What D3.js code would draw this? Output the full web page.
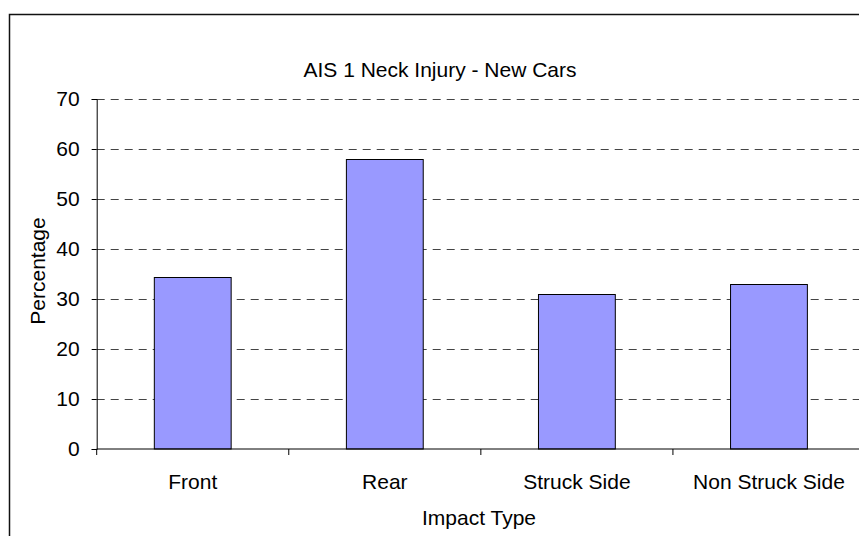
<!doctype html>
<html lang="en">
  <head>
    <meta charset="UTF-8">
    <title>AIS 1 Neck Injury - New Cars</title>
    <style>
      body { margin: 0; background: #fff; }
      svg text { font-family: "Liberation Sans", Arial, sans-serif; fill: #000; }
      .grid line { stroke: #444; stroke-width: 1; stroke-dasharray: 8,6; }
    </style>
  </head>
  <body>
    <svg width="859" height="536"></svg>
    <script src="https://d3js.org/d3.v7.min.js"></script>
    <script>
      // chart data
      var categories = ["Front", "Rear", "Struck Side", "Non Struck Side"];
      var values = [34.3, 57.9, 30.9, 32.9];
      var yTicks = [0, 10, 20, 30, 40, 50, 60, 70];

      var svg = d3.select("svg");
      var plotLeft = 96.7, plotRight = 865, plotTop = 99, plotBottom = 449;
      var fs = "21px";

      // chart area border (runs off the right and bottom edge)
      svg.append("rect")
              .attr("x", 9.5).attr("y", 14.5)
              .attr("width", 900).attr("height", 560)
              .attr("fill", "#fff")
              .attr("stroke", "#111")
              .attr("stroke-width", 1.5);

      var x = d3.scaleBand()
              .domain(categories)
              .range([plotLeft, plotRight])
              .padding(0);

      var y = d3.scaleLinear()
              .domain([0, 70])
              .range([plotBottom, plotTop]);

      // dashed gridlines
      svg.append("g").attr("class", "grid")
              .selectAll("line")
              .data(yTicks.filter(function (d) { return d > 0; }))
              .enter().append("line")
              .attr("x1", plotLeft).attr("x2", plotRight)
              .attr("y1", function (d) { return Math.round(y(d)) + 0.5; })
              .attr("y2", function (d) { return Math.round(y(d)) + 0.5; });

      // bars
      var barW = x.bandwidth() * 0.4;
      svg.append("g").selectAll("rect")
              .data(values)
              .enter().append("rect")
              .attr("x", function (d, i) { return x(categories[i]) + (x.bandwidth() - barW) / 2; })
              .attr("y", function (d) { return y(d); })
              .attr("width", barW)
              .attr("height", function (d) { return y(0) - y(d); })
              .attr("fill", "#9999ff")
              .attr("stroke", "#000")
              .attr("stroke-width", 1);

      // y axis
      var yAxis = d3.axisLeft(y)
              .tickValues(yTicks)
              .tickSize(5)
              .tickPadding(12);
      var gy = svg.append("g")
              .attr("transform", "translate(" + plotLeft + ",0)")
              .call(yAxis);
      gy.select(".domain").attr("stroke", "#000");
      gy.selectAll(".tick line").attr("stroke", "#000");
      gy.selectAll(".tick text")
              .style("font-size", fs)
              .style("font-family", "'Liberation Sans', Arial, sans-serif")
              .attr("fill", "#000");

      // x axis with ticks between categories
      var gx = svg.append("g")
              .attr("transform", "translate(0," + plotBottom + ")");
      gx.append("line")
              .attr("x1", plotLeft).attr("x2", plotRight)
              .attr("stroke", "#000");
      var bounds = categories.map(function (c) { return x(c); }).concat([plotRight]);
      gx.selectAll(".xt")
              .data(bounds)
              .enter().append("line")
              .attr("class", "xt")
              .attr("x1", function (d) { return d; })
              .attr("x2", function (d) { return d; })
              .attr("y1", 0).attr("y2", 6)
              .attr("stroke", "#000");
      gx.selectAll("text")
              .data(categories)
              .enter().append("text")
              .attr("x", function (d) { return x(d) + x.bandwidth() / 2; })
              .attr("y", 40)
              .attr("text-anchor", "middle")
              .style("font-size", fs)
              .text(function (d) { return d; });

      // titles
      svg.append("text")
              .attr("x", 440).attr("y", 77)
              .attr("text-anchor", "middle")
              .style("font-size", fs)
              .text("AIS 1 Neck Injury - New Cars");

      svg.append("text")
              .attr("x", 479).attr("y", 525)
              .attr("text-anchor", "middle")
              .style("font-size", fs)
              .text("Impact Type");

      svg.append("text")
              .attr("transform", "translate(45,271) rotate(-90)")
              .attr("text-anchor", "middle")
              .style("font-size", fs)
              .text("Percentage");
    </script>
  </body>
</html>
